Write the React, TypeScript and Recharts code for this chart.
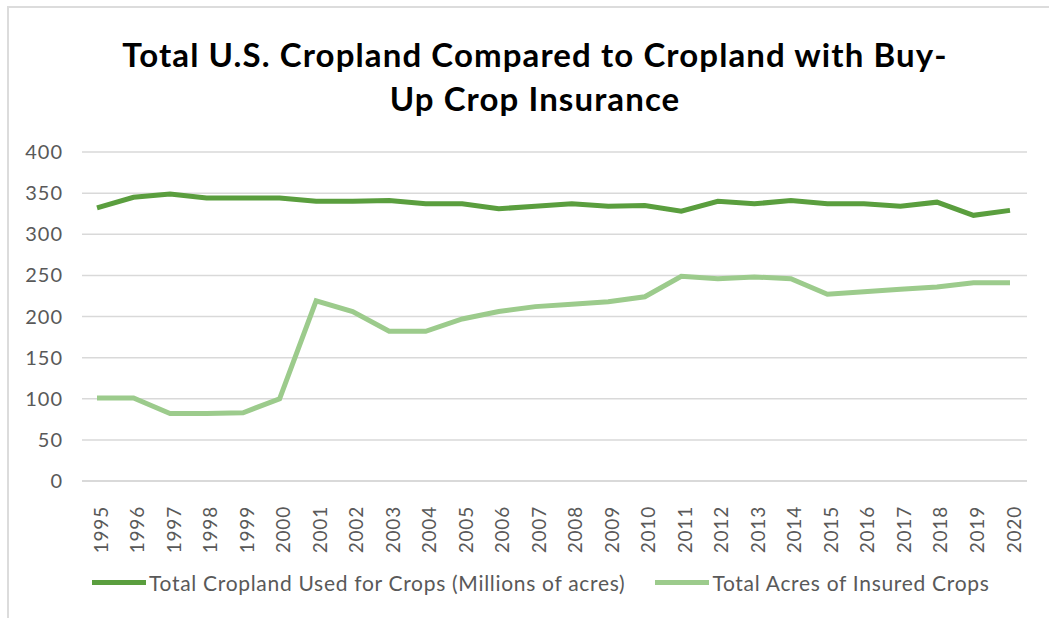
import React from "react";
import { LineChart, Line, XAxis, YAxis, CartesianGrid } from "recharts";

const years = [
  "1995", "1996", "1997", "1998", "1999", "2000", "2001", "2002", "2003",
  "2004", "2005", "2006", "2007", "2008", "2009", "2010", "2011", "2012",
  "2013", "2014", "2015", "2016", "2017", "2018", "2019", "2020",
];

const totalCropland = [
  332, 345, 349, 344, 344, 344, 340, 340, 341, 337, 337, 331, 334, 337, 334,
  335, 328, 340, 337, 341, 337, 337, 334, 339, 323, 329,
];

const insuredAcres = [
  101, 101, 82, 82, 83, 100, 219, 206, 182, 182, 197, 206, 212, 215, 218,
  224, 249, 246, 248, 246, 227, 230, 233, 236, 241, 241,
];

const yTicks = [0, 50, 100, 150, 200, 250, 300, 350, 400];

const seriesNames = [
  "Total Cropland Used for Crops (Millions of acres)",
  "Total Acres of Insured Crops",
];

const DARK = "#5a9e3e";
const LIGHT = "#9ccb8c";
const FONT = "Lato, 'Open Sans', sans-serif";

const data = years.map((year, i) => ({
  year,
  total: totalCropland[i],
  insured: insuredAcres[i],
}));

const YearTick = (props: any) => {
  const { x, y, payload } = props;
  const tx = x + 3;
  const ty = y + 17;
  return (
    <text
      x={tx}
      y={ty}
      transform={`rotate(-90 ${tx} ${ty})`}
      textAnchor="end"
      dominantBaseline="central"
      fill="#595959"
      fontSize={19}
      letterSpacing={0.8}
      fontFamily={FONT}
    >
      {payload.value}
    </text>
  );
};

// legend drawn as plain html so it doesn't eat plot height
const ChartLegend = () => (
  <div
    style={{
      position: "absolute",
      left: 92,
      top: 570,
      display: "flex",
      alignItems: "center",
      fontFamily: FONT,
      fontSize: 21,
      letterSpacing: 0.7,
      color: "#595959",
      whiteSpace: "nowrap",
    }}
  >
    {[DARK, LIGHT].map((c, i) => (
      <div
        key={c}
        style={{ display: "flex", alignItems: "center", marginRight: 30 }}
      >
        <span
          style={{
            display: "inline-block",
            width: 54,
            height: 5,
            background: c,
            marginRight: 3,
          }}
        />
        <span>{seriesNames[i]}</span>
      </div>
    ))}
  </div>
);

export default function App() {
  return (
    <div
      style={{
        position: "absolute",
        left: 0,
        top: 0,
        width: 1049,
        height: 618,
        background: "#fff",
      }}
    >
      <div
        style={{
          position: "absolute",
          left: 7,
          top: 6,
          right: 0,
          bottom: 0,
          borderTop: "2px solid #dcdcdc",
          borderLeft: "2px solid #dcdcdc",
        }}
      />
      <div
        style={{
          position: "absolute",
          left: 0,
          width: 1070,
          top: 32,
          textAlign: "center",
          fontFamily: FONT,
          fontWeight: 700,
          fontSize: 33,
          letterSpacing: 1.1,
          lineHeight: "44px",
          color: "#000",
        }}
      >
        <div>Total U.S. Cropland Compared to Cropland with Buy-</div>
        <div>Up Crop Insurance</div>
      </div>
      <LineChart
        width={1049}
        height={618}
        data={data}
        margin={{ top: 152, right: 22, bottom: 0, left: 22 }}
        style={{ position: "absolute", left: 0, top: 0 }}
      >
        <CartesianGrid vertical={false} stroke="#d9d9d9" strokeWidth={1.5} />
        <XAxis
          dataKey="year"
          interval={0}
          height={137}
          padding={{ left: 15, right: 17 }}
          axisLine={{ stroke: "#d9d9d9", strokeWidth: 2 }}
          tickLine={false}
          tick={<YearTick />}
        />
        <YAxis
          domain={[0, 400]}
          ticks={yTicks}
          width={60}
          axisLine={false}
          tickLine={false}
          tickSize={0}
          tickMargin={19}
          tick={{
            fill: "#595959",
            fontSize: 20,
            letterSpacing: 1,
            fontFamily: FONT,
          }}
        />
        <Line
          type="linear"
          dataKey="total"
          name={seriesNames[0]}
          stroke={DARK}
          strokeWidth={5}
          dot={false}
          isAnimationActive={false}
        />
        <Line
          type="linear"
          dataKey="insured"
          name={seriesNames[1]}
          stroke={LIGHT}
          strokeWidth={5}
          dot={false}
          isAnimationActive={false}
        />
      </LineChart>
      <ChartLegend />
    </div>
  );
}
